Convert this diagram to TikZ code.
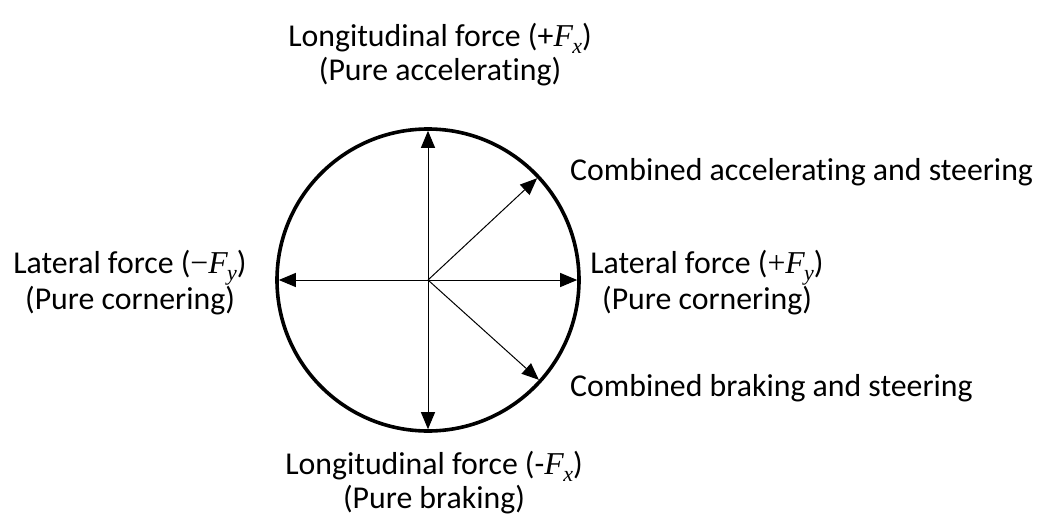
\documentclass[tikz,border=0pt]{standalone}
\usepackage{fontspec}
\setmainfont[Ligatures={NoCommon}]{Carlito}
\newfontfamily\mfnt{Liberation Serif}
\newcommand\Fsym[1]{{\mfnt\itshape F\kern-0.02em\raisebox{-0.22em}{\fontsize{22}{22}\selectfont #1}}}
\usetikzlibrary{arrows.meta}
\begin{document}
\begin{tikzpicture}[x=1pt,y=-1pt,
  lbl/.style={font=\fontsize{31.8}{34}\selectfont, inner sep=0pt, align=center},
  force/.style={line width=1pt, -{Triangle[length=17pt,width=14pt]}, shorten >=1.8pt}]
\useasboundingbox (0,0) rectangle (1042,522);
\node[draw, circle, line width=3.6pt, minimum size=302pt, inner sep=0pt, outer sep=0pt] (c) at (428,280) {};
\draw[force] (c.center) -- (c.90);
\draw[force] (c.center) -- (c.270);
\draw[force] (c.center) -- (c.180);
\draw[force] (c.center) -- (c.0);
\draw[force] (c.center) -- (c.43);
\draw[force] (c.center) -- (c.-42);
\node[lbl] (top) at (440,55) {Longitudinal force (+\Fsym{x})\\(Pure accelerating)};
\node[lbl] (bot) at (434,483) {Longitudinal force (-\Fsym{x})\\(Pure braking)};
\node[lbl] (left) at (130,283) {Lateral force ({\mfnt −}\Fsym{y})\\(Pure cornering)};
\node[lbl] (right) at (707,283) {Lateral force ({\mfnt +}\Fsym{y})\\(Pure cornering)};
\node[lbl, anchor=west] (comb1) at (570,172) {Combined accelerating and steering};
\node[lbl, anchor=west] (comb2) at (570,388) {Combined braking and steering};
\end{tikzpicture}
\end{document}
